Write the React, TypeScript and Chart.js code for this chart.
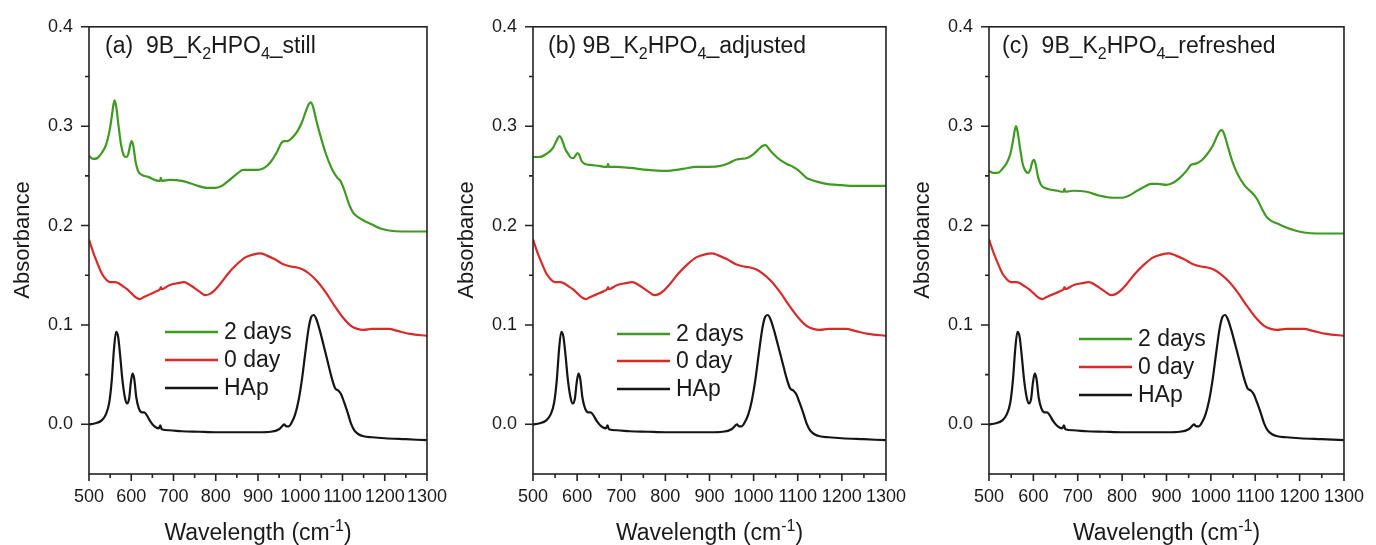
import React, { useEffect, useRef } from 'react';
import { Chart, registerables } from 'chart.js';

Chart.register(...registerables);

// ---------- axis ticks ----------
const xTickValues = [500, 600, 700, 800, 900, 1000, 1100, 1200, 1300];
const xMinorTicks = [550, 650, 750, 850, 950, 1050, 1150, 1250];
const yTickValues = [0, 0.1, 0.2, 0.3, 0.4];
const yMinorTicks = [0.05, 0.15, 0.25, 0.35];

// ---------- series labels / colours ----------
const seriesLabels = ['2 days', '0 day', 'HAp'];
const seriesColors = ['#3f9a22', '#d92a2a', '#151515'];
const panelTags = ['(a)', '(b)', '(c)'];
const panelSuffixes = ['still', 'adjusted', 'refreshed'];

// ---------- HAp reference (same in all panels) ----------
const hapWave = [500, 515, 530, 540, 548, 554, 559, 564, 569, 574, 579, 585, 590, 595, 599, 603, 607, 612, 618, 625, 631, 637, 645, 655, 665, 669, 672, 690, 720, 760, 800, 850, 900, 930, 950, 957, 962, 967, 973, 980, 988, 996, 1004, 1012, 1020, 1026, 1032, 1038, 1046, 1055, 1065, 1075, 1083, 1090, 1097, 1104, 1112, 1120, 1128, 1138, 1150, 1170, 1200, 1250, 1300];
const hapAbs = [0.0, 0.001, 0.004, 0.01, 0.022, 0.045, 0.075, 0.093, 0.088, 0.068, 0.045, 0.027, 0.021, 0.026, 0.042, 0.051, 0.046, 0.027, 0.016, 0.012, 0.012, 0.009, 0.003, -0.002, -0.004, -0.001, -0.005, -0.006, -0.007, -0.0075, -0.008, -0.008, -0.008, -0.0075, -0.005, -0.002, 0.0, -0.002, -0.002, 0.002, 0.01, 0.024, 0.045, 0.072, 0.097, 0.108, 0.11, 0.106, 0.095, 0.08, 0.063, 0.046, 0.036, 0.034, 0.03, 0.022, 0.012, 0.001, -0.006, -0.01, -0.012, -0.013, -0.014, -0.015, -0.016];

// ---------- 0 day (same in all panels) ----------
const day0Wave = [500, 510, 520, 530, 540, 550, 560, 570, 580, 590, 600, 610, 620, 630, 645, 660, 668, 670, 672, 690, 710, 725, 740, 760, 775, 785, 795, 810, 830, 850, 870, 890, 905, 920, 940, 960, 975, 990, 1005, 1020, 1040, 1060, 1080, 1100, 1120, 1135, 1150, 1170, 1190, 1210, 1230, 1260, 1300];
const day0Abs = [0.186, 0.173, 0.162, 0.152, 0.146, 0.143, 0.143, 0.142, 0.139, 0.136, 0.132, 0.128, 0.126, 0.128, 0.131, 0.134, 0.136, 0.138, 0.136, 0.14, 0.142, 0.143, 0.14, 0.134, 0.13, 0.131, 0.134, 0.141, 0.152, 0.161, 0.168, 0.171, 0.172, 0.17, 0.166, 0.161, 0.159, 0.158, 0.156, 0.152, 0.144, 0.133, 0.12, 0.108, 0.099, 0.096, 0.095, 0.096, 0.096, 0.096, 0.094, 0.091, 0.089];

// ---------- 2 days, (a) still ----------
const stillWave = [500, 510, 520, 530, 540, 548, 554, 558, 561, 565, 570, 576, 582, 588, 593, 597, 601, 605, 610, 616, 625, 640, 655, 665, 668, 670, 672, 690, 720, 750, 780, 800, 815, 830, 850, 865, 880, 900, 915, 930, 945, 955, 962, 970, 980, 992, 1004, 1014, 1020, 1025, 1030, 1038, 1048, 1060, 1075, 1088, 1095, 1105, 1115, 1125, 1135, 1150, 1170, 1190, 1210, 1240, 1270, 1300];
const stillAbs = [0.27, 0.267, 0.268, 0.273, 0.281, 0.294, 0.31, 0.322, 0.326, 0.318, 0.3, 0.281, 0.271, 0.269, 0.272, 0.28, 0.285, 0.28, 0.265, 0.255, 0.251, 0.249, 0.246, 0.245, 0.245, 0.248, 0.245, 0.246, 0.245, 0.241, 0.238, 0.238, 0.24, 0.245, 0.252, 0.256, 0.256, 0.256, 0.258, 0.264, 0.274, 0.283, 0.285, 0.285, 0.288, 0.294, 0.304, 0.316, 0.322, 0.324, 0.32, 0.306, 0.29, 0.273, 0.257, 0.248, 0.245, 0.235, 0.222, 0.213, 0.209, 0.205, 0.201, 0.197, 0.195, 0.194, 0.194, 0.194];

// ---------- 2 days, (b) adjusted ----------
const adjustedWave = [500, 515, 530, 545, 553, 560, 566, 573, 580, 587, 592, 597, 601, 605, 610, 618, 630, 650, 665, 668, 670, 672, 690, 720, 760, 800, 840, 870, 900, 925, 945, 958, 970, 985, 1000, 1012, 1020, 1027, 1035, 1045, 1060, 1075, 1090, 1100, 1110, 1120, 1130, 1145, 1165, 1190, 1220, 1260, 1300];
const adjustedAbs = [0.269, 0.269, 0.272, 0.278, 0.285, 0.29, 0.286, 0.277, 0.272, 0.268, 0.268, 0.271, 0.273, 0.271, 0.265, 0.262, 0.261, 0.26, 0.259, 0.259, 0.262, 0.259, 0.259, 0.258, 0.256, 0.255, 0.257, 0.259, 0.259, 0.26, 0.263, 0.266, 0.267, 0.268, 0.272, 0.277, 0.28, 0.281, 0.277, 0.272, 0.266, 0.262, 0.259, 0.256, 0.252, 0.248, 0.246, 0.244, 0.242, 0.241, 0.24, 0.24, 0.24];

// ---------- 2 days, (c) refreshed ----------
const refreshedWave = [500, 510, 520, 530, 540, 548, 554, 558, 561, 565, 570, 576, 582, 588, 593, 597, 601, 605, 610, 617, 625, 640, 655, 665, 668, 670, 672, 690, 720, 750, 780, 800, 815, 830, 850, 865, 880, 900, 915, 930, 945, 955, 962, 970, 980, 992, 1004, 1014, 1020, 1025, 1030, 1038, 1048, 1060, 1075, 1088, 1095, 1105, 1115, 1125, 1135, 1150, 1170, 1190, 1210, 1240, 1270, 1300];
const refreshedAbs = [0.255, 0.253, 0.253, 0.257, 0.263, 0.272, 0.285, 0.296, 0.3, 0.293, 0.278, 0.262, 0.255, 0.253, 0.256, 0.263, 0.266, 0.262, 0.25, 0.241, 0.238, 0.236, 0.235, 0.234, 0.234, 0.237, 0.234, 0.235, 0.234, 0.23, 0.228, 0.228, 0.23, 0.234, 0.239, 0.242, 0.242, 0.241, 0.243, 0.248, 0.255, 0.261, 0.262, 0.263, 0.266, 0.272, 0.28, 0.29, 0.295, 0.296, 0.292, 0.28, 0.265, 0.252, 0.241, 0.235, 0.232, 0.226, 0.217, 0.209, 0.205, 0.202, 0.198, 0.195, 0.193, 0.192, 0.192, 0.192];

const greenWaves = [stillWave, adjustedWave, refreshedWave];
const greenAbs = [stillAbs, adjustedAbs, refreshedAbs];

const FONT = '"Liberation Sans", Arial, Helvetica, sans-serif';
const TEXT = '#1a1a1a';

type Layout = {
  left: number; width: number; padRight: number;
  gap: string; titleDx: number; legendDx: number; legendRows: number[];
};

const layouts: Layout[] = [
  { left: 0, width: 459, padRight: 22, gap: '  ', titleDx: 16, legendDx: 76, legendRows: [332, 360, 388] },
  { left: 444, width: 474, padRight: 24, gap: ' ', titleDx: 15, legendDx: 84, legendRows: [334, 361, 389] },
  { left: 900, width: 476, padRight: 23, gap: '  ', titleDx: 13, legendDx: 90, legendRows: [339, 367, 395] },
];

const toPoints = (xs: number[], ys: number[]) => xs.map((x, i) => ({ x, y: ys[i] }));

type Seg = { t: string; sub?: boolean; sup?: boolean };

function drawRich(ctx: CanvasRenderingContext2D, segs: Seg[], x: number, y: number, size: number, align: 'left' | 'center') {
  const small = Math.round(size * 0.68);
  const widths = segs.map((s) => {
    ctx.font = `${s.sub || s.sup ? small : size}px ${FONT}`;
    return ctx.measureText(s.t).width;
  });
  const total = widths.reduce((a, b) => a + b, 0);
  let cx = align === 'center' ? x - total / 2 : x;
  ctx.textAlign = 'left';
  ctx.textBaseline = 'alphabetic';
  segs.forEach((s, i) => {
    ctx.font = `${s.sub || s.sup ? small : size}px ${FONT}`;
    const dy = s.sub ? size * 0.27 : s.sup ? -size * 0.4 : 0;
    ctx.fillText(s.t, cx, y + dy);
    cx += widths[i];
  });
}

function Panel({ idx }: { idx: number }) {
  const ref = useRef<HTMLCanvasElement | null>(null);
  const lay = layouts[idx];

  useEffect(() => {
    const canvas = ref.current;
    if (!canvas) return;

    const decor = {
      id: 'decor' + idx,
      afterDraw(chart: any) {
        const { ctx, chartArea: a, scales } = chart;
        const xs = scales.x;
        const ys = scales.y;
        ctx.save();
        ctx.strokeStyle = '#222';
        ctx.lineWidth = 1.6;
        ctx.strokeRect(a.left, a.top, a.right - a.left, a.bottom - a.top);
        ctx.beginPath();
        xTickValues.forEach((v) => {
          const p = xs.getPixelForValue(v);
          ctx.moveTo(p, a.bottom);
          ctx.lineTo(p, a.bottom + 7);
        });
        xMinorTicks.forEach((v) => {
          const p = xs.getPixelForValue(v);
          ctx.moveTo(p, a.bottom);
          ctx.lineTo(p, a.bottom + 4);
        });
        yTickValues.forEach((v) => {
          const p = ys.getPixelForValue(v);
          ctx.moveTo(a.left - 8, p);
          ctx.lineTo(a.left, p);
        });
        yMinorTicks.forEach((v) => {
          const p = ys.getPixelForValue(v);
          ctx.moveTo(a.left - 4, p);
          ctx.lineTo(a.left, p);
        });
        ctx.stroke();

        ctx.fillStyle = TEXT;
        // panel title
        drawRich(
          ctx,
          [
            { t: `${panelTags[idx]}${lay.gap}9B_K` },
            { t: '2', sub: true },
            { t: 'HPO' },
            { t: '4', sub: true },
            { t: `_${panelSuffixes[idx]}` },
          ],
          a.left + lay.titleDx,
          a.top + 26,
          23,
          'left'
        );

        // legend
        seriesLabels.forEach((lab, i) => {
          const y = lay.legendRows[i];
          const x0 = a.left + lay.legendDx;
          ctx.strokeStyle = seriesColors[i];
          ctx.lineWidth = 2.4;
          ctx.beginPath();
          ctx.moveTo(x0, y);
          ctx.lineTo(x0 + 53, y);
          ctx.stroke();
          ctx.fillStyle = TEXT;
          ctx.font = `23px ${FONT}`;
          ctx.textAlign = 'left';
          ctx.textBaseline = 'middle';
          ctx.fillText(lab, x0 + 59, y + 1);
        });

        // x title
        ctx.fillStyle = TEXT;
        drawRich(
          ctx,
          [{ t: 'Wavelength (cm' }, { t: '-1', sup: true }, { t: ')' }],
          (a.left + a.right) / 2,
          540,
          23,
          'center'
        );

        // y title
        ctx.save();
        ctx.translate(23, 240);
        ctx.rotate(-Math.PI / 2);
        ctx.font = `22px ${FONT}`;
        ctx.textAlign = 'center';
        ctx.textBaseline = 'middle';
        ctx.fillText('Absorbance', 0, 0);
        ctx.restore();

        ctx.restore();
      },
    };

    const chart = new Chart(canvas, {
      type: 'line',
      data: {
        datasets: [
          {
            label: seriesLabels[2],
            data: toPoints(hapWave, hapAbs),
            borderColor: seriesColors[2],
          },
          {
            label: seriesLabels[1],
            data: toPoints(day0Wave, day0Abs),
            borderColor: seriesColors[1],
          },
          {
            label: seriesLabels[0],
            data: toPoints(greenWaves[idx], greenAbs[idx]),
            borderColor: seriesColors[0],
          },
        ].map((d) => ({
          ...d,
          borderWidth: 2.2,
          pointRadius: 0,
          fill: false,
          cubicInterpolationMode: 'monotone' as const,
        })),
      },
      options: {
        animation: false,
        responsive: false,
        events: [],
        layout: { padding: { left: 0, right: lay.padRight, top: 22, bottom: 0 } },
        plugins: { legend: { display: false }, tooltip: { enabled: false }, title: { display: false } },
        scales: {
          x: {
            type: 'linear',
            min: 500,
            max: 1300,
            grid: { display: false, drawTicks: false },
            border: { display: false },
            afterBuildTicks: (s: any) => {
              s.ticks = xTickValues.map((v) => ({ value: v }));
            },
            afterFit: (s: any) => {
              s.height = 71;
            },
            ticks: {
              autoSkip: false,
              maxRotation: 0,
              padding: 12,
              color: TEXT,
              font: { family: FONT, size: 18 },
              callback: (v: any) => String(v),
            },
          },
          y: {
            type: 'linear',
            min: -0.05,
            max: 0.4,
            grid: { display: false, drawTicks: false },
            border: { display: false },
            afterBuildTicks: (s: any) => {
              s.ticks = yTickValues.map((v) => ({ value: v }));
            },
            afterFit: (s: any) => {
              s.width = 89;
            },
            ticks: {
              padding: 16,
              color: TEXT,
              font: { family: FONT, size: 18 },
              callback: (v: any) => Number(v).toFixed(1),
            },
          },
        },
      },
      plugins: [decor],
    });
    return () => chart.destroy();
  }, [idx]);

  return (
    <canvas
      ref={ref}
      width={lay.width}
      height={545}
      style={{ position: 'absolute', left: lay.left, top: 0, width: lay.width, height: 545 }}
    />
  );
}

export default function App() {
  return (
    <div style={{ position: 'absolute', left: 0, top: 0, width: 1376, height: 545, background: '#fff', overflow: 'hidden' }}>
      {[0, 1, 2].map((i) => (
        <Panel key={i} idx={i} />
      ))}
    </div>
  );
}
